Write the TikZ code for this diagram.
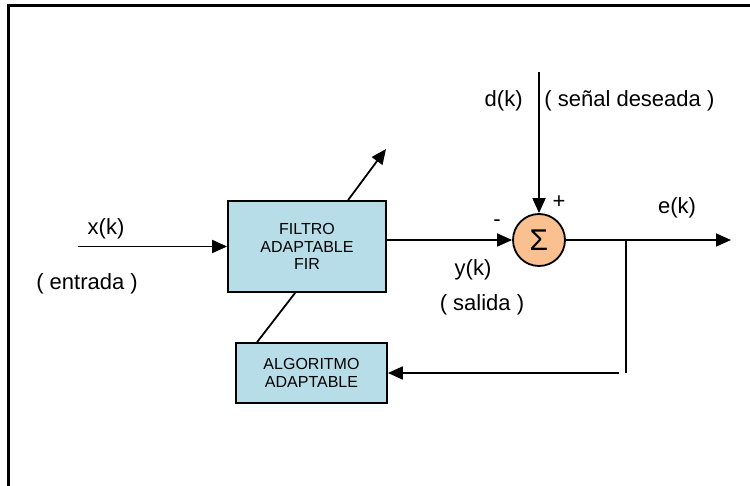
\documentclass[tikz,border=0pt]{standalone}
\usepackage{fontspec}
\setmainfont{Liberation Sans}
\usetikzlibrary{arrows.meta,positioning}
\definecolor{FilterCyan}{HTML}{B7DEE8}
\definecolor{SumOrange}{HTML}{FAC090}

\begin{document}
\begin{tikzpicture}[x=0.5pt, y=-0.5pt,
    block/.style={draw=black, line width=0.9pt, fill=FilterCyan, align=center, inner sep=0pt, font=\fontsize{8}{8.85}\selectfont},
    sumnode/.style={circle, draw=black, line width=0.9pt, fill=SumOrange, minimum size=26pt, inner sep=0pt, font=\fontsize{15}{15}\selectfont},
    lbl/.style={inner sep=0pt, font=\fontsize{11}{12}\selectfont},
    arrow/.style={-{Triangle[length=7.5pt,width=6.5pt]}, line width=0.9pt},
    wire/.style={line width=0.9pt}
  ]
    \useasboundingbox (0,0) rectangle (750,486);
    \draw[line width=1.1pt] (8.5,487) -- (8.5,5.5) -- (751,5.5);
    \node[block, minimum width=79pt, minimum height=45.5pt] (filtro) at (307,246.5) {FILTRO\\ADAPTABLE\\FIR};
    \node[block, minimum width=75.5pt, minimum height=30pt] (algo) at (311.5,373) {ALGORITMO\\ADAPTABLE};
    \node[sumnode] (sum) at (539,240) {Σ};
    \coordinate (xin) at (78,246.5);
    \coordinate (dtop) at (539,72);
    \coordinate (eout) at (731,240);
    \coordinate (branch) at (626,240);
    \coordinate (bend) at (626,373);
    \coordinate (fbin) at (619,373);
    \coordinate (adapttip) at (386,149);
    \draw[arrow] (xin) -- (filtro);
    \draw[arrow] (filtro.east |- sum) -- (sum);
    \draw[arrow] (dtop) -- (sum);
    \draw[arrow] (sum) -- (eout);
    \draw[wire] (branch) -- (bend);
    \draw[arrow] (fbin) -- (algo);
    \draw[wire] ([xshift=11pt]algo.north west) -- ([xshift=34pt]filtro.south west);
    \draw[arrow] ([xshift=60.5pt]filtro.north west) -- (adapttip);
    \node[lbl] (xlbl) at (106,229) {x(k)};
    \node[lbl] (entrada) at (87,284) {( entrada )};
    \node[lbl, anchor=east] (dlbl) at (523,101) {d(k)};
    \node[lbl, anchor=west] (deseada) at (544,101) {( señal deseada )};
    \node[lbl] (plus) at (559,202) {+};
    \node[lbl] (minus) at (497,223) {-};
    \node[lbl] (elbl) at (677,208) {e(k)};
    \node[lbl] (ylbl) at (473,270) {y(k)};
    \node[lbl] (salida) at (482,305) {( salida )};
  \end{tikzpicture}
\end{document}
